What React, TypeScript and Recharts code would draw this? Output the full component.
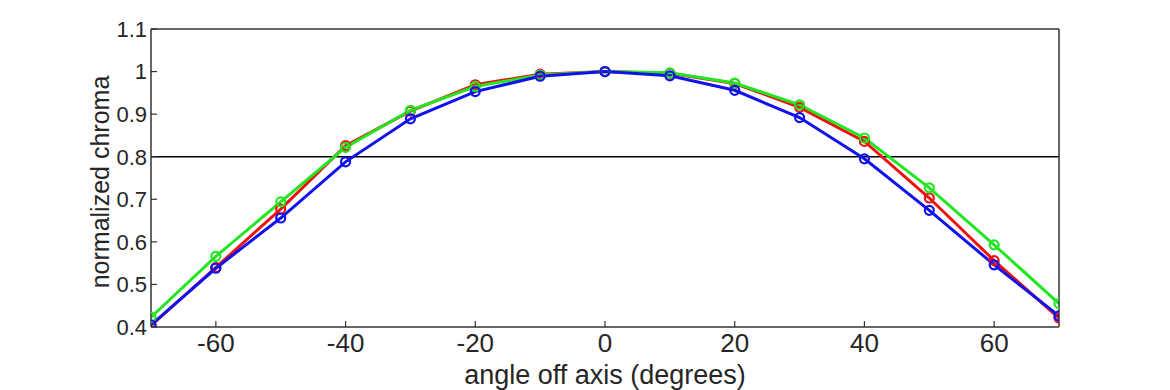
import React from 'react';
import { LineChart, Line, XAxis, YAxis, ReferenceLine } from 'recharts';

const angles = [-70, -60, -50, -40, -30, -20, -10, 0, 10, 20, 30, 40, 50, 60, 70];
const redValues = [0.403, 0.540, 0.677, 0.826, 0.907, 0.969, 0.994, 1.0, 0.996, 0.972, 0.916, 0.836, 0.703, 0.556, 0.421];
const greenValues = [0.423, 0.566, 0.694, 0.822, 0.909, 0.965, 0.992, 1.0, 0.997, 0.973, 0.922, 0.844, 0.727, 0.593, 0.455];
const blueValues = [0.405, 0.538, 0.656, 0.788, 0.889, 0.953, 0.989, 1.0, 0.990, 0.956, 0.892, 0.795, 0.674, 0.546, 0.426];
const xTicks = [-60, -40, -20, 0, 20, 40, 60];
const yTicks = [0.4, 0.5, 0.6, 0.7, 0.8, 0.9, 1.0, 1.1];
const threshold = 0.8;

const data = angles.map((a, i) => ({
  angle: a,
  red: redValues[i],
  green: greenValues[i],
  blue: blueValues[i],
}));

const FONT = '"Liberation Sans", Arial, Helvetica, sans-serif';
const AXIS = '#333333';
const TEXT = '#262626';
const RED = '#ee1111';
const GREEN = '#22e622';
const BLUE = '#1111ee';

const yFmt = (v: number) => (Math.abs(v - 1) < 1e-9 ? '1' : v.toFixed(1));

const XTitle = (props: any) => {
  const vb = props.viewBox || {};
  return (
    <text x={vb.x + vb.width / 2} y={vb.y + 57} textAnchor="middle" fontSize={27} fontFamily={FONT} fill={TEXT}>
      angle off axis (degrees)
    </text>
  );
};

const YTitle = (props: any) => {
  const vb = props.viewBox || {};
  const cx = vb.x + vb.width - 42;
  const cy = vb.y + vb.height / 2 + 4;
  return (
    <text x={cx} y={cy} transform={`rotate(-90 ${cx} ${cy})`} textAnchor="middle" fontSize={25} fontFamily={FONT} fill={TEXT}>
      normalized chroma
    </text>
  );
};

export default function App() {
  return (
    <div style={{ position: 'absolute', left: 0, top: 0, width: 1170, height: 390, background: '#fff' }}>
      <LineChart
        width={1170}
        height={390}
        data={data}
        margin={{ top: 28, right: 110, bottom: 62, left: 150 }}
      >
        <XAxis
          dataKey="angle"
          type="number"
          domain={[-70, 70]}
          ticks={xTicks}
          allowDataOverflow
          height={1}
          axisLine={{ stroke: AXIS, strokeWidth: 1.5 }}
          tickLine={{ stroke: AXIS, strokeWidth: 1.2 }}
          tickSize={-6}
          tickMargin={13}
          tick={{ fontSize: 26, fontFamily: FONT, fill: TEXT }}
          label={<XTitle />}
        />
        <XAxis
          xAxisId="top"
          orientation="top"
          dataKey="angle"
          type="number"
          domain={[-70, 70]}
          ticks={xTicks}
          allowDataOverflow
          height={1}
          axisLine={{ stroke: AXIS, strokeWidth: 1.5 }}
          tickLine={{ stroke: AXIS, strokeWidth: 1.2 }}
          tickSize={-6}
          tick={false}
        />
        <YAxis
          type="number"
          domain={[0.4, 1.1]}
          ticks={yTicks}
          allowDataOverflow
          width={1}
          tickFormatter={yFmt}
          axisLine={{ stroke: AXIS, strokeWidth: 1.5 }}
          tickLine={{ stroke: AXIS, strokeWidth: 1.2 }}
          tickSize={-6}
          tickMargin={10}
          tick={{ fontSize: 22, fontFamily: FONT, fill: TEXT }}
          label={<YTitle />}
        />
        <YAxis
          yAxisId="right"
          orientation="right"
          type="number"
          domain={[0.4, 1.1]}
          ticks={yTicks}
          allowDataOverflow
          width={1}
          axisLine={{ stroke: AXIS, strokeWidth: 1.5 }}
          tickLine={{ stroke: AXIS, strokeWidth: 1.2 }}
          tickSize={-6}
          tick={false}
        />
        <ReferenceLine y={threshold} stroke="#000" strokeWidth={1.5} />
        <Line
          dataKey="red"
          stroke={RED}
          strokeWidth={3}
          dot={{ r: 4.5, stroke: RED, strokeWidth: 2.2, fill: 'none' }}
          isAnimationActive={false}
        />
        <Line
          dataKey="green"
          stroke={GREEN}
          strokeWidth={3}
          dot={{ r: 4.5, stroke: GREEN, strokeWidth: 2.2, fill: 'none' }}
          isAnimationActive={false}
        />
        <Line
          dataKey="blue"
          stroke={BLUE}
          strokeWidth={3}
          dot={{ r: 4.5, stroke: BLUE, strokeWidth: 2.2, fill: 'none' }}
          isAnimationActive={false}
        />
      </LineChart>
    </div>
  );
}
